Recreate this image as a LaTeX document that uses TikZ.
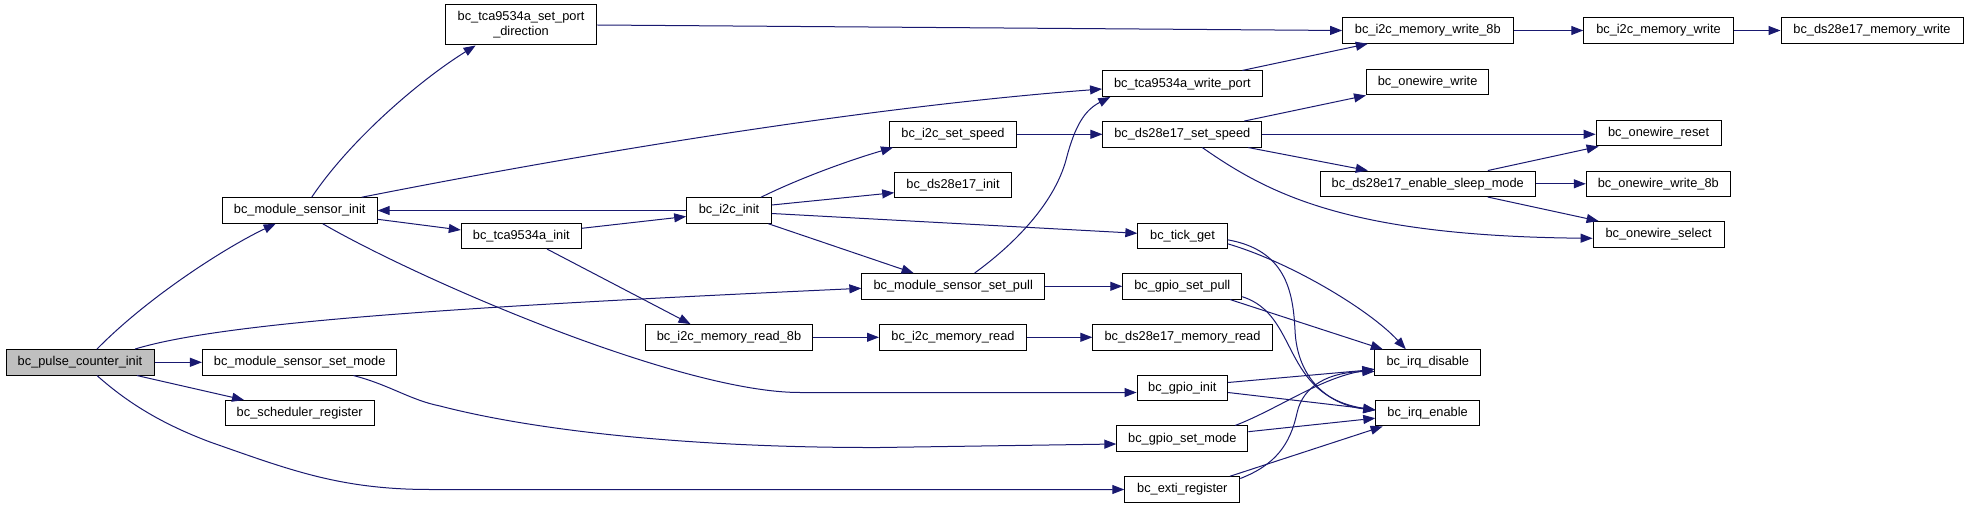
\documentclass[tikz,border=0pt]{standalone}
\usepackage{fontspec}
\setmainfont{Liberation Sans}
\usetikzlibrary{arrows.meta}
\definecolor{edgeblue}{HTML}{191970}
\definecolor{rootgray}{HTML}{BFBFBF}
\begin{document}
\begin{tikzpicture}[x=1pt,y=-1pt,
  fn/.style={draw=black, line width=1pt, fill=white, inner xsep=2pt, inner ysep=1pt,
    minimum height=25.5pt, font=\fontsize{12.8}{15}\selectfont, align=center},
  root/.style={fn, fill=rootgray},
  call/.style={draw=edgeblue, line width=1pt, -{Triangle[length=12pt,width=9pt]}}]
\useasboundingbox[fill=white] (0,0) rectangle (1968,508);

% nodes
\node[root, minimum width=148pt]   (PC)   at (80,362.3)     {bc\_pulse\_counter\_init};
\node[fn, minimum width=155pt]     (MSI)  at (299.7,210.5)  {bc\_module\_sensor\_init};
\node[fn, minimum width=194.5pt]   (MSSM) at (299.7,362.3)  {bc\_module\_sensor\_set\_mode};
\node[fn, minimum width=149pt]     (SCH)  at (299.7,413.2)  {bc\_scheduler\_register};
\node[fn, minimum width=151.6pt, minimum height=40pt] (SPD) at (521,25) {bc\_tca9534a\_set\_port\\\_direction};
\node[fn, minimum width=120pt]     (TINIT) at (521.3,235.8) {bc\_tca9534a\_init};
\node[fn, minimum width=84.6pt]    (I2CI) at (729,210.5)    {bc\_i2c\_init};
\node[fn, minimum width=167pt]     (MR8)  at (729,337.3)    {bc\_i2c\_memory\_read\_8b};
\node[fn, minimum width=126.7pt]   (ISS)  at (953,134.3)    {bc\_i2c\_set\_speed};
\node[fn, minimum width=116.6pt]   (DSI)  at (953,185.2)    {bc\_ds28e17\_init};
\node[fn, minimum width=182.7pt]   (MSSP) at (953.2,286.3)  {bc\_module\_sensor\_set\_pull};
\node[fn, minimum width=147pt]     (IMR)  at (953,337.3)    {bc\_i2c\_memory\_read};
\node[fn, minimum width=159.5pt]   (WP)   at (1182.3,83.7)  {bc\_tca9534a\_write\_port};
\node[fn, minimum width=158.7pt]   (DSS)  at (1182.3,134.3) {bc\_ds28e17\_set\_speed};
\node[fn, minimum width=89.3pt]    (TG)   at (1182.5,235.8) {bc\_tick\_get};
\node[fn, minimum width=119pt]     (GSP)  at (1182.3,286.3) {bc\_gpio\_set\_pull};
\node[fn, minimum width=179.3pt]   (DMR)  at (1182.5,337.3) {bc\_ds28e17\_memory\_read};
\node[fn, minimum width=90.5pt]    (GI)   at (1182.3,388)   {bc\_gpio\_init};
\node[fn, minimum width=131pt]     (GSM)  at (1182.3,438.7) {bc\_gpio\_set\_mode};
\node[fn, minimum width=115pt]     (EXTI) at (1182.3,489.5) {bc\_exti\_register};
\node[fn, minimum width=170.4pt]   (MW8)  at (1427.8,30.5)  {bc\_i2c\_memory\_write\_8b};
\node[fn, minimum width=122pt]     (OWW)  at (1427.6,82.2)  {bc\_onewire\_write};
\node[fn, minimum width=214.7pt]   (ESM)  at (1427.8,183.8) {bc\_ds28e17\_enable\_sleep\_mode};
\node[fn, minimum width=105.7pt]   (IRQD) at (1427.8,362.5) {bc\_irq\_disable};
\node[fn, minimum width=103.6pt]   (IRQE) at (1427.6,413.2) {bc\_irq\_enable};
\node[fn, minimum width=149.5pt]   (IMW)  at (1658.5,30.5)  {bc\_i2c\_memory\_write};
\node[fn, minimum width=125pt]     (OWR)  at (1658.6,133.2) {bc\_onewire\_reset};
\node[fn, minimum width=144pt]     (OW8)  at (1658.3,183.8) {bc\_onewire\_write\_8b};
\node[fn, minimum width=131pt]     (OWS)  at (1658.6,234.3) {bc\_onewire\_select};
\node[fn, minimum width=182pt]     (DMW)  at (1872,30.5)    {bc\_ds28e17\_memory\_write};

% edges from bc_pulse_counter_init
\draw[call] ([xshift=17]PC.north) .. controls (150,295) and (230,245) .. ([xshift=-24]MSI.south);
\draw[call] ([xshift=55]PC.north) .. controls (230,320) and (500,305) .. ([yshift=-2]MSSP.west);
\draw[call] (PC.east) -- (MSSM.west);
\draw[call] ([xshift=57]PC.south) -- ([xshift=-55.7]SCH.north);
\draw[call] ([xshift=17]PC.south) .. controls (130,405) and (165,425) .. (210,442)
  .. controls (290,470) and (340,489.5) .. (430,489.5) -- (EXTI.west);

% bc_module_sensor_init
\draw[call] ([xshift=12]MSI.north) .. controls (350,140) and (420,80) .. ([xshift=-45.4]SPD.south);
\draw[call] ([xshift=62]MSI.north) .. controls (550,160) and (850,108) .. ([yshift=-5.3]WP.west);
\draw[call] ([yshift=-8.8]MSI.east) -- ([yshift=5.8]TINIT.west);
\draw[call] ([xshift=23]MSI.south) .. controls (420,280) and (680,392.5) .. (800,392.5) -- ([yshift=-4.5]GI.west);

% bc_i2c_init
\draw[call] (I2CI.west) -- (MSI.east);
\draw[call] ([xshift=32]I2CI.north) .. controls (800,178) and (850,160) .. ([xshift=-60]ISS.south);
\draw[call] ([yshift=5.5]I2CI.east) -- ([yshift=-7.5]DSI.west);
\draw[call] ([yshift=-3]I2CI.east) -- ([yshift=2.5]TG.west);
\draw[call] ([xshift=39.4]I2CI.south) -- ([xshift=-39.6]MSSP.north);

% bc_tca9534a_init
\draw[call] ([yshift=7.5]TINIT.east) -- ([yshift=-6]I2CI.west);
\draw[call] ([xshift=25.7]TINIT.south) -- ([xshift=-38.5]MR8.north);

% set port direction / write port
\draw[call] (SPD.east) -- (MW8.west);
\draw[call] ([xshift=60]WP.north) -- ([xshift=-60]MW8.south);
\draw[call] (MW8.east) -- (IMW.west);
\draw[call] (IMW.east) -- (DMW.west);

% speed
\draw[call] (ISS.east) -- (DSS.west);
\draw[call] ([xshift=62]DSS.north) -- ([xshift=-61.6]OWW.south);
\draw[call] (DSS.east) -- (DSS.east -| OWR.west);
\draw[call] ([xshift=66]DSS.south) -- ([xshift=-60]ESM.north);
\draw[call] ([xshift=20]DSS.south) .. controls (1270,195) and (1350,236) .. ([yshift=-4]OWS.west);
\draw[call] ([xshift=60]ESM.north) -- ([xshift=-60]OWR.south);
\draw[call] (ESM.east) -- (OW8.west);
\draw[call] ([xshift=60]ESM.south) -- ([xshift=-60]OWS.north);

% set pull
\draw[call] ([xshift=21.4]MSSP.north) .. controls (1020,240) and (1055,200) .. (1066,160)
  .. controls (1075,125) and (1085,110) .. ([xshift=-72]WP.south);
\draw[call] (MSSP.east) -- (GSP.west);
\draw[call] ([xshift=47.7]GSP.south) -- ([xshift=-45]IRQD.north);
\draw[call] ([yshift=-10.4]GSP.east) .. controls (1300,315) and (1280,395) .. ([yshift=3]IRQE.west);

% tick get
\draw[call] ([yshift=-8]TG.east) .. controls (1290,262) and (1370,310) .. ([xshift=-22]IRQD.north);
\draw[call] ([yshift=-4]TG.east) .. controls (1285,250) and (1293,290) .. (1295,330)
  .. controls (1297,380) and (1330,405) .. ([yshift=3]IRQE.west);

% memory read
\draw[call] (MR8.east) -- (IMR.west);
\draw[call] (IMR.east) -- (DMR.west);

% gpio init
\draw[call] ([yshift=5.5]GI.east) -- ([yshift=-7]IRQD.west);
\draw[call] ([yshift=-4.5]GI.east) -- ([yshift=3.5]IRQE.west);

% gpio set mode
\draw[call] ([xshift=53]GSM.north) .. controls (1280,408) and (1320,378) .. ([yshift=-6.5]IRQD.west);
\draw[call] ([yshift=7]GSM.east) -- ([yshift=-5]IRQE.west);

% exti register
\draw[call] ([yshift=11]EXTI.east) .. controls (1275,465) and (1290,445) .. (1297,413)
  .. controls (1303,385) and (1330,372) .. ([yshift=-9]IRQD.west);
\draw[call] ([xshift=47.7]EXTI.north) -- ([xshift=-45]IRQE.south);

% module sensor set mode
\draw[call] ([xshift=53.8]MSSM.south) .. controls (390,385) and (410,400) .. (440,406)
  .. controls (540,432) and (700,448) .. (880,447.5) -- ([yshift=-5.3]GSM.west);
\end{tikzpicture}
\end{document}
